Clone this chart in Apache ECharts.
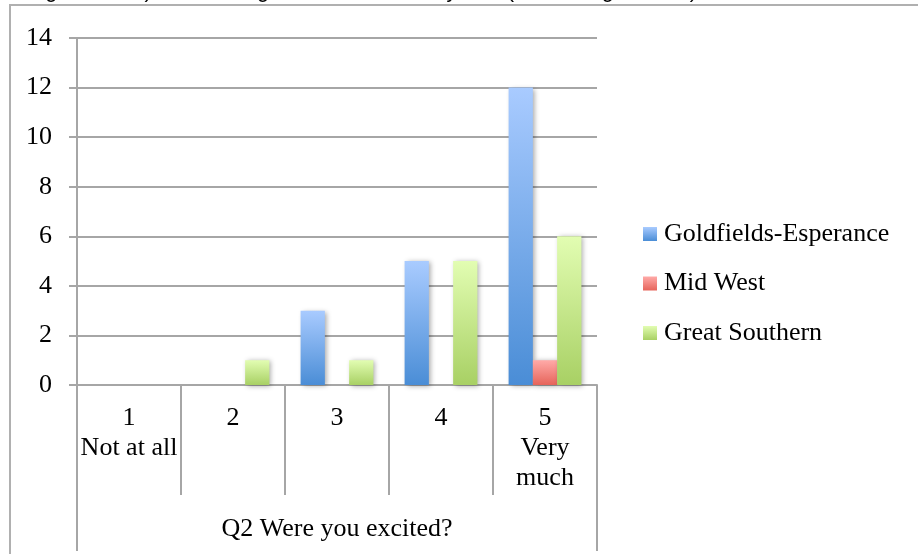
<!DOCTYPE html>
<html>
<head>
<meta charset="utf-8">
<script src="https://cdn.jsdelivr.net/npm/echarts@6/dist/echarts.min.js"></script>
<style>html,body{margin:0;padding:0;background:#fff}#c{width:918px;height:554px}</style>
</head>
<body>
<div id="c"></div>
<script>
const titleText = 'Figure 2012) All Ranking of the Members by Tier (All Average Score)';
const categories = ['1\nNot at all', '2', '3', '4', '5\nVery\nmuch'];
const groupLabel = 'Q2 Were you excited?';
const seriesNames = ['Goldfields-Esperance', 'Mid West', 'Great Southern'];
const goldfields = [0, 0, 3, 5, 12];
const midWest = [0, 0, 0, 0, 1];
const greatSouthern = [0, 1, 1, 5, 6];
const yTicks = { min: 0, max: 14, interval: 2 };

const FONT = 'Liberation Serif';
const FS = 26;
const AX = '#a6a6a6';
function grad(top, bottom) {
  return new echarts.graphic.LinearGradient(0, 0, 0, 1, [
    { offset: 0, color: top }, { offset: 1, color: bottom }
  ]);
}
const colors = [
  grad('#a9cbff', '#4a8dd6'),
  grad('#ffaaa8', '#e6645a'),
  grad('#e2fdb2', '#a8d064')
];
const values = [goldfields, midWest, greatSouthern];

const chart = echarts.init(document.getElementById('c'), null, { renderer: 'canvas' });
chart.setOption({
  animation: false,
  backgroundColor: '#fff',
  graphic: [
    { type: 'rect', shape: { x: 10, y: 5, width: 2000, height: 2000 }, style: { fill: 'none', stroke: '#b0b0b0', lineWidth: 2 }, z: 0 },
    { type: 'text', left: 27, top: -20, style: { text: titleText, font: '22px "Liberation Sans"', fill: '#000' }, z: 10 }
  ],
  legend: {
    orient: 'vertical',
    left: 638,
    top: 214,
    itemWidth: 14,
    itemHeight: 14,
    itemGap: 19.5,
    icon: 'rect',
    textStyle: { fontFamily: FONT, fontSize: FS, color: '#000', padding: [0, 0, 0, 2], lineHeight: 30 },
    data: seriesNames
  },
  grid: { left: 77, right: 321, top: 38, bottom: 169, containLabel: false },
  xAxis: [
    {
      type: 'category',
      data: categories,
      axisLine: { show: true, lineStyle: { color: AX, width: 2 } },
      axisTick: { show: true, interval: 0, length: 110, lineStyle: { color: AX, width: 2 } },
      axisLabel: { interval: 0, margin: 18, fontFamily: FONT, fontSize: FS, lineHeight: 30, color: '#000' },
      splitLine: { show: false }
    },
    {
      type: 'category',
      position: 'bottom',
      data: [groupLabel],
      axisLine: { show: false },
      axisTick: { show: true, interval: 0, length: 166, lineStyle: { color: AX, width: 2 } },
      axisLabel: { interval: 0, margin: 129, fontFamily: FONT, fontSize: FS, lineHeight: 30, color: '#000' },
      splitLine: { show: false }
    }
  ],
  yAxis: {
    type: 'value',
    min: yTicks.min, max: yTicks.max, interval: yTicks.interval,
    axisLine: { show: true, lineStyle: { color: AX, width: 2 } },
    axisTick: { show: true, length: 8, lineStyle: { color: AX, width: 2 } },
    axisLabel: { margin: 25, fontFamily: FONT, fontSize: FS, color: '#000' },
    splitLine: { show: true, lineStyle: { color: AX, width: 2 } }
  },
  series: seriesNames.map((name, i) => ({
    name,
    type: 'bar',
    xAxisIndex: 0,
    data: values[i],
    barGap: '0%',
    barCategoryGap: '30%',
    itemStyle: {
      color: colors[i],
      shadowColor: 'rgba(0,0,0,0.35)',
      shadowBlur: 5,
      shadowOffsetX: 2,
      shadowOffsetY: 1
    }
  }))
});
</script>
</body>
</html>
